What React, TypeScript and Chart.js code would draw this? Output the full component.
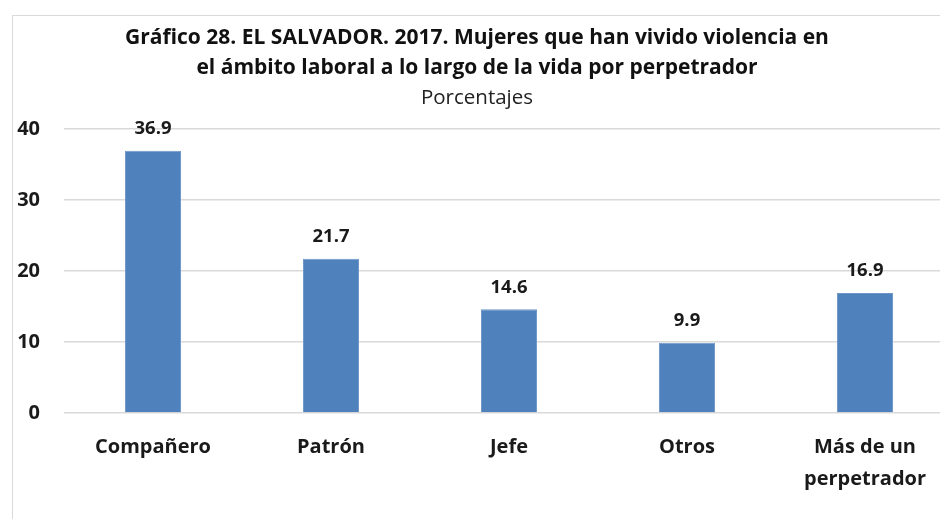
import React, { useEffect, useRef } from "react";
import { Chart, registerables } from "chart.js";

Chart.register(...registerables);

const categories: (string | string[])[] = ["Compañero", "Patrón", "Jefe", "Otros", ["Más de un", "perpetrador"]];
const values: number[] = [36.9, 21.7, 14.6, 9.9, 16.9];
const valueLabels: string[] = ["36.9", "21.7", "14.6", "9.9", "16.9"];
const titleLines: string[] = [
  "Gráfico 28. EL SALVADOR. 2017. Mujeres que han vivido violencia en",
  "el ámbito laboral a lo largo de la vida por perpetrador",
];
const subtitleText = "Porcentajes";

const FONT = "'Open Sans', 'DejaVu Sans', sans-serif";
const TEXT = "#1a1a1a";

const framePlugin = {
  id: "frame",
  beforeDraw(chart: any) {
    const ctx = chart.ctx;
    ctx.save();
    ctx.fillStyle = "#ffffff";
    ctx.fillRect(0, 0, chart.width, chart.height);
    ctx.strokeStyle = "#d9d9d9";
    ctx.lineWidth = 1;
    ctx.beginPath();
    ctx.moveTo(12.5, chart.height);
    ctx.lineTo(12.5, 15.5);
    ctx.lineTo(chart.width, 15.5);
    ctx.stroke();
    ctx.restore();
  },
};

const valueLabelPlugin = {
  id: "valueLabels",
  afterDatasetsDraw(chart: any) {
    const ctx = chart.ctx;
    const meta = chart.getDatasetMeta(0);
    ctx.save();
    ctx.fillStyle = TEXT;
    ctx.font = `bold 18.5px ${FONT}`;
    ctx.textAlign = "center";
    ctx.textBaseline = "middle";
    meta.data.forEach((bar: any, i: number) => {
      ctx.fillText(valueLabels[i], bar.x, bar.y - 22);
    });
    ctx.restore();
  },
};

export default function App() {
  const ref = useRef<HTMLCanvasElement | null>(null);

  useEffect(() => {
    if (!ref.current) return;
    const chart = new Chart(ref.current, {
      type: "bar",
      data: {
        labels: categories,
        datasets: [
          {
            data: values,
            backgroundColor: "#4f81bd",
            borderColor: "#6d97c9",
            borderWidth: 1,
            barPercentage: 1,
            categoryPercentage: 0.315,
          },
        ],
      },
      options: {
        responsive: false,
        animation: false,
        layout: { padding: { left: 0, right: 6, top: 0, bottom: 0 } },
        plugins: {
          legend: { display: false },
          tooltip: { enabled: false },
          title: {
            display: true,
            text: titleLines,
            color: "#111111",
            font: { family: FONT, size: 21, weight: "bold", lineHeight: 1.43 },
            padding: { top: 23, bottom: 0 },
          },
          subtitle: {
            display: true,
            text: subtitleText,
            color: "#222222",
            font: { family: FONT, size: 20.5, weight: "normal", lineHeight: 1.5 },
            padding: { top: 0, bottom: 15 },
          },
        },
        scales: {
          x: {
            grid: { display: false, drawTicks: false },
            border: { display: false },
            ticks: {
              color: TEXT,
              font: { family: FONT, size: 20, weight: "bold", lineHeight: 1.6 },
              padding: 18,
              maxRotation: 0,
              autoSkip: false,
            },
            afterFit(scale: any) {
              scale.height = 106;
            },
          },
          y: {
            min: 0,
            max: 40,
            grid: { color: "#d9d9d9", drawTicks: false, lineWidth: 1.5 },
            border: { display: false },
            ticks: {
              stepSize: 10,
              color: TEXT,
              font: { family: FONT, size: 20, weight: "bold" },
              padding: 24,
            },
            afterFit(scale: any) {
              scale.width = 64;
            },
          },
        },
      },
      plugins: [framePlugin, valueLabelPlugin],
    });
    return () => chart.destroy();
  }, []);

  return (
    <div
      style={{
        position: "fixed",
        top: 0,
        left: 0,
        width: 940,
        height: 519,
        overflow: "hidden",
        background: "#ffffff",
      }}
    >
      <canvas ref={ref} width={960} height={519} style={{ display: "block", width: 960, height: 519 }} />
    </div>
  );
}
